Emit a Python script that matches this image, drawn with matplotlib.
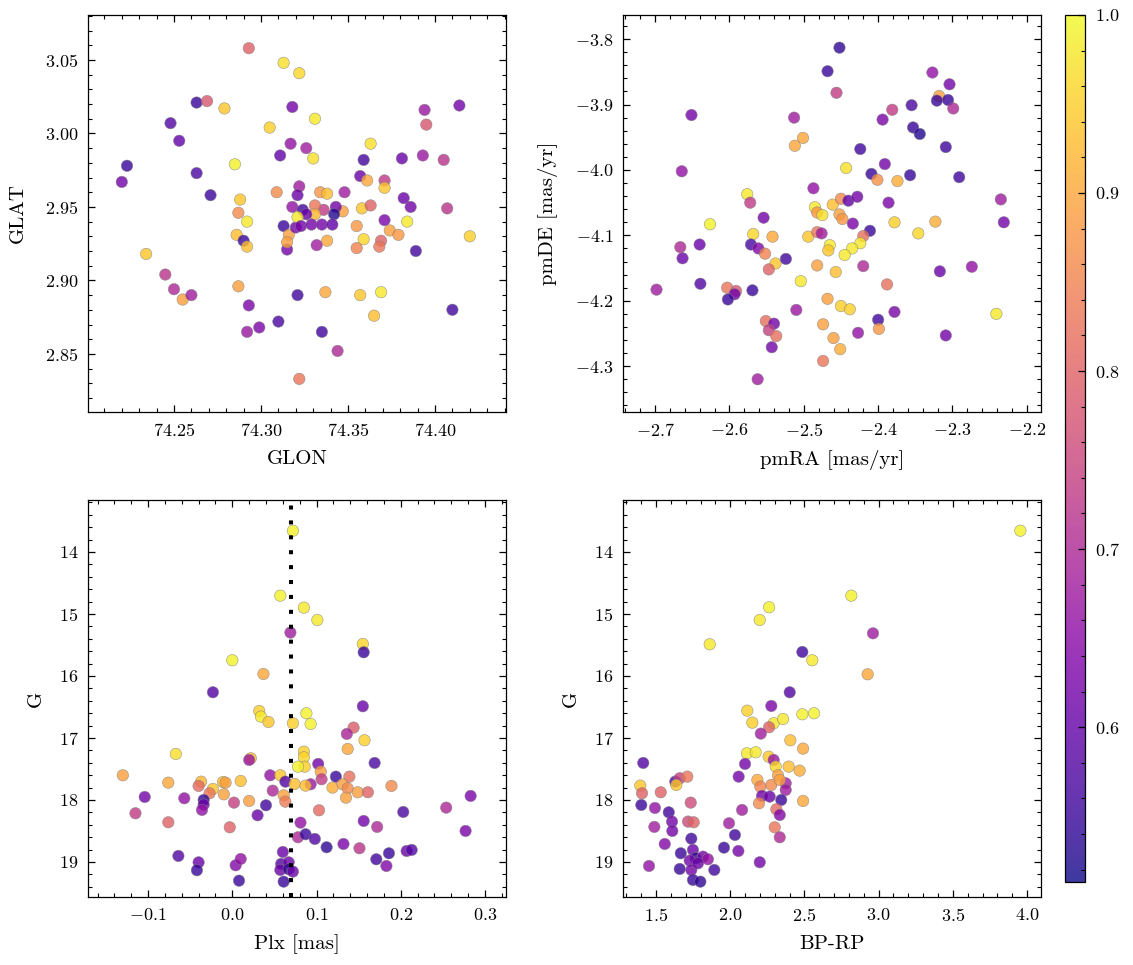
"""
membership plots: position, proper motion, parallax and CMD coloured by probability
"""
import numpy as np
import matplotlib
matplotlib.use('Agg')
import matplotlib.pyplot as plt
from matplotlib.ticker import MultipleLocator

plt.rcParams['font.family'] = 'serif'
plt.rcParams['font.serif'] = ['cmr10']
plt.rcParams['mathtext.fontset'] = 'cm'
plt.rcParams['axes.formatter.use_mathtext'] = True
plt.rcParams['font.size'] = 13
plt.rcParams['axes.labelsize'] = 15
plt.rcParams['axes.labelpad'] = 8
plt.rcParams['axes.linewidth'] = 0.9
plt.rcParams['xtick.direction'] = 'in'
plt.rcParams['ytick.direction'] = 'in'
plt.rcParams['xtick.top'] = True
plt.rcParams['ytick.right'] = True
plt.rcParams['xtick.major.pad'] = 7
plt.rcParams['ytick.major.pad'] = 7
plt.rcParams['xtick.major.size'] = 5
plt.rcParams['ytick.major.size'] = 5
plt.rcParams['xtick.minor.size'] = 2.7
plt.rcParams['ytick.minor.size'] = 2.7
plt.rcParams['xtick.major.width'] = 0.9
plt.rcParams['ytick.major.width'] = 0.9
plt.rcParams['xtick.minor.width'] = 0.8
plt.rcParams['ytick.minor.width'] = 0.8
plt.rcParams['xtick.minor.visible'] = True
plt.rcParams['ytick.minor.visible'] = True

# ---- position panel
glon = [74.293, 74.313, 74.322, 74.263, 74.269, 74.279, 74.318, 74.248, 74.305, 74.253,
        74.317, 74.311, 74.223, 74.220, 74.285, 74.263, 74.271, 74.288, 74.309, 74.287,
        74.292, 74.286, 74.290, 74.292, 74.234, 74.245, 74.250, 74.255, 74.260, 74.287,
        74.293, 74.292, 74.299, 74.310, 74.321, 74.322,
        74.313, 74.315, 74.316, 74.315, 74.318, 74.320,
        74.331, 74.394, 74.414, 74.395, 74.363, 74.326, 74.330, 74.359, 74.381, 74.393,
        74.405, 74.357, 74.361, 74.371, 74.371, 74.348, 74.334, 74.338, 74.322, 74.321,
        74.382, 74.386, 74.407, 74.358, 74.363, 74.347, 74.343, 74.342, 74.336, 74.331,
        74.331, 74.324, 74.326, 74.321, 74.323, 74.329, 74.335, 74.341, 74.371, 74.384,
        74.355, 74.374, 74.379, 74.338, 74.359, 74.369, 74.368, 74.355, 74.332, 74.389,
        74.420, 74.337, 74.357, 74.369, 74.365, 74.410, 74.335, 74.344]
glat = [3.058, 3.048, 3.041, 3.021, 3.022, 3.017, 3.018, 3.007, 3.004, 2.995,
        2.993, 2.985, 2.978, 2.967, 2.979, 2.973, 2.958, 2.955, 2.960, 2.946,
        2.940, 2.931, 2.927, 2.923, 2.918, 2.904, 2.894, 2.887, 2.890, 2.896,
        2.883, 2.865, 2.868, 2.872, 2.890, 2.833,
        2.937, 2.921, 2.931, 2.926, 2.950, 2.936,
        3.010, 3.016, 3.019, 3.006, 2.993, 2.990, 2.983, 2.982, 2.983, 2.985,
        2.982, 2.971, 2.968, 2.968, 2.963, 2.960, 2.960, 2.959, 2.964, 2.958,
        2.956, 2.950, 2.949, 2.949, 2.951, 2.947, 2.950, 2.945, 2.948, 2.951,
        2.945, 2.948, 2.945, 2.943, 2.937, 2.938, 2.938, 2.938, 2.941, 2.940,
        2.937, 2.934, 2.931, 2.927, 2.928, 2.927, 2.923, 2.922, 2.924, 2.920,
        2.930, 2.892, 2.890, 2.892, 2.876, 2.880, 2.865, 2.852]
prob_pos = [0.80, 0.97, 0.96, 0.55, 0.78, 0.94, 0.62, 0.58, 0.95, 0.60,
            0.66, 0.60, 0.55, 0.62, 0.99, 0.57, 0.55, 0.94, 0.86, 0.86,
            0.98, 0.93, 0.55, 0.93, 0.94, 0.72, 0.70, 0.89, 0.68, 0.89,
            0.63, 0.67, 0.63, 0.57, 0.56, 0.83,
            0.55, 0.62, 0.89, 0.89, 0.66, 0.62,
            0.98, 0.67, 0.62, 0.78, 0.97, 0.68, 0.97, 0.56, 0.61, 0.67,
            0.72, 0.61, 0.90, 0.73, 0.94, 0.68, 0.88, 0.93, 0.68, 0.61,
            0.61, 0.62, 0.72, 0.94, 0.80, 0.89, 0.62, 0.53, 0.73, 0.83,
            0.92, 0.56, 0.61, 0.98, 0.62, 0.62, 0.62, 0.60, 0.63, 0.98,
            0.88, 0.89, 0.88, 0.90, 0.96, 0.80, 0.83, 0.85, 0.68, 0.56,
            0.95, 0.90, 0.94, 0.98, 0.93, 0.56, 0.56, 0.70]

# ---- proper motion panel
pmra = [-2.452, -2.468, -2.456, -2.651, -2.513, -2.501, -2.512, -2.664, -2.487, -2.576,
        -2.572, -2.485, -2.482, -2.475, -2.461, -2.554, -2.626, -2.568, -2.542, -2.494,
        -2.482, -2.476, -2.465, -2.467, -2.666, -2.640, -2.663, -2.571, -2.561, -2.552,
        -2.538, -2.524, -2.547, -2.482, -2.457, -2.504, -2.698, -2.639, -2.603, -2.591,
        -2.593, -2.602, -2.569, -2.510, -2.468, -2.551, -2.540, -2.547, -2.537, -2.543,
        -2.474, -2.460, -2.474, -2.562,
        -2.327, -2.304, -2.318, -2.321, -2.306, -2.299, -2.355, -2.381, -2.394, -2.353,
        -2.344, -2.424, -2.309, -2.443, -2.391, -2.409, -2.401, -2.374, -2.357, -2.291,
        -2.450, -2.440, -2.428, -2.386, -2.452, -2.448, -2.434, -2.411, -2.420, -2.378,
        -2.323, -2.346, -2.235, -2.231, -2.424, -2.435, -2.445, -2.420, -2.317, -2.274,
        -2.388, -2.450, -2.438, -2.378, -2.400, -2.399, -2.427, -2.241, -2.309, -2.451]
pmde = [-3.813, -3.849, -3.882, -3.916, -3.920, -3.951, -3.963, -4.002, -4.028, -4.037,
        -4.050, -4.057, -4.065, -4.069, -4.053, -4.073, -4.083, -4.098, -4.102, -4.102,
        -4.095, -4.097, -4.115, -4.123, -4.118, -4.114, -4.135, -4.114, -4.120, -4.128,
        -4.143, -4.136, -4.152, -4.146, -4.156, -4.170, -4.183, -4.174, -4.180, -4.185,
        -4.190, -4.198, -4.184, -4.214, -4.197, -4.231, -4.235, -4.245, -4.254, -4.271,
        -4.236, -4.257, -4.292, -4.320,
        -3.851, -3.869, -3.887, -3.894, -3.893, -3.906, -3.901, -3.908, -3.923, -3.935,
        -3.945, -3.968, -3.965, -3.997, -3.991, -4.006, -4.015, -4.017, -4.008, -4.011,
        -4.044, -4.047, -4.041, -4.050, -4.068, -4.075, -4.082, -4.093, -4.101, -4.080,
        -4.079, -4.097, -4.045, -4.080, -4.112, -4.120, -4.130, -4.147, -4.155, -4.148,
        -4.175, -4.208, -4.213, -4.217, -4.229, -4.243, -4.249, -4.220, -4.253, -4.274]
prob_pm = [0.54, 0.55, 0.73, 0.62, 0.68, 0.90, 0.90, 0.66, 0.66, 0.98,
           0.73, 0.98, 0.88, 0.97, 0.93, 0.62, 0.99, 0.96, 0.90, 0.94,
           0.83, 0.68, 0.98, 0.94, 0.70, 0.61, 0.61, 0.57, 0.64, 0.85,
           0.94, 0.56, 0.80, 0.89, 0.93, 0.98, 0.68, 0.58, 0.83, 0.78,
           0.62, 0.55, 0.55, 0.67, 0.89, 0.82, 0.62, 0.74, 0.82, 0.62,
           0.89, 0.89, 0.83, 0.68,
           0.66, 0.62, 0.89, 0.55, 0.55, 0.70, 0.57, 0.73, 0.63, 0.55,
           0.53, 0.56, 0.56, 0.97, 0.62, 0.55, 0.87, 0.91, 0.55, 0.56,
           0.86, 0.60, 0.62, 0.63, 0.89, 0.88, 0.63, 0.55, 0.82, 0.95,
           0.91, 0.96, 0.68, 0.62, 0.98, 0.98, 0.98, 0.70, 0.61, 0.66,
           0.82, 0.95, 0.95, 0.63, 0.56, 0.88, 0.66, 0.98, 0.62, 0.91]

# ---- parallax panel
plx = [0.072, 0.057, 0.069, 0.000, 0.037, -0.023, 0.032, 0.034, 0.043, 0.072,
       -0.067, 0.022, 0.020, -0.130, -0.076, -0.037, -0.040, -0.023, -0.027, -0.011,
       -0.008, -0.010, 0.010, 0.020, 0.045, 0.057, 0.063, 0.074, 0.048, 0.061,
       0.063, -0.104, -0.057, -0.115, -0.076, -0.034, -0.034, -0.036, 0.002, -0.003,
       0.040, 0.030, -0.064, -0.040, -0.042, 0.004, 0.010, 0.008, 0.060, 0.058,
       0.057, 0.067, 0.067, 0.061, 0.072,
       0.085, 0.101, 0.155, 0.156, 0.155, 0.088, 0.093, 0.144, 0.136, 0.157,
       0.137, 0.085, 0.085, 0.086, 0.078, 0.169, 0.102, 0.105, 0.123, 0.139,
       0.106, 0.093, 0.087, 0.119, 0.131, 0.137, 0.149, 0.161, 0.189, 0.135,
       0.283, 0.254, 0.203, 0.103, 0.156, 0.172, 0.081, 0.277, 0.078, 0.087,
       0.098, 0.112, 0.132, 0.151, 0.171, 0.186, 0.183, 0.207, 0.213]
g_plx = [13.657, 14.705, 15.300, 15.747, 15.968, 16.263, 16.565, 16.656, 16.742, 16.763,
         17.258, 17.328, 17.355, 17.602, 17.721, 17.705, 17.774, 17.823, 17.892, 17.710,
         17.721, 17.909, 17.694, 18.016, 17.602, 17.602, 17.705, 17.742, 17.850, 17.925,
         18.027, 17.952, 17.973, 18.215, 18.360, 18.000, 18.075, 18.161, 18.043, 18.441,
         18.086, 18.247, 18.903, 19.006, 19.134, 19.054, 18.952, 19.302, 18.839, 19.032,
         19.129, 19.006, 19.118, 19.318, 19.156,
         14.898, 15.097, 15.484, 15.618, 16.489, 16.602, 16.774, 16.833, 16.935, 17.037,
         17.177, 17.221, 17.311, 17.463, 17.463, 17.403, 17.419, 17.543, 17.624, 17.624,
         17.666, 17.747, 17.769, 17.801, 17.747, 17.812, 17.876, 17.876, 17.774, 17.963,
         17.935, 18.124, 18.194, 18.167, 18.339, 18.435, 18.366, 18.500, 18.602, 18.553,
         18.629, 18.763, 18.710, 18.779, 18.957, 18.860, 19.065, 18.823, 18.806]
prob_plx = [0.99, 0.99, 0.68, 0.99, 0.90, 0.58, 0.95, 0.98, 0.94, 0.95,
            0.97, 0.93, 0.67, 0.89, 0.90, 0.92, 0.81, 0.94, 0.83, 0.93,
            0.89, 0.89, 0.93, 0.89, 0.66, 0.94, 0.58, 0.93, 0.70, 0.89,
            0.84, 0.62, 0.66, 0.73, 0.80, 0.54, 0.61, 0.66, 0.74, 0.80,
            0.56, 0.61, 0.58, 0.61, 0.55, 0.64, 0.66, 0.55, 0.61, 0.58,
            0.61, 0.61, 0.54, 0.55, 0.61,
            0.98, 0.98, 0.96, 0.55, 0.61, 0.99, 0.99, 0.79, 0.69, 0.95,
            0.90, 0.95, 0.96, 0.95, 0.99, 0.57, 0.62, 0.89, 0.55, 0.82,
            0.73, 0.67, 0.93, 0.91, 0.89, 0.86, 0.89, 0.80, 0.86, 0.89,
            0.63, 0.70, 0.57, 0.81, 0.62, 0.70, 0.66, 0.63, 0.70, 0.55,
            0.58, 0.54, 0.63, 0.72, 0.56, 0.55, 0.64, 0.61, 0.58]
plx_line = 0.07

# ---- colour-magnitude panel
bprp = [2.262, 2.199, 1.862, 2.486, 2.553, 2.401, 2.277, 2.115, 2.149, 2.293,
        2.262, 2.356, 2.486, 2.565, 2.206, 2.405, 2.491, 2.113, 2.172, 2.259,
        2.293, 2.100, 2.307, 2.394, 2.468, 1.414, 2.057, 2.183, 2.322, 2.277,
        2.203, 2.374, 2.374, 2.334, 2.214, 2.266, 2.344, 2.491, 2.194, 2.311,
        2.334, 2.300, 2.334, 2.199, 1.394, 1.406, 1.401, 1.532, 1.630, 1.660,
        1.711, 1.637, 1.493, 1.586, 1.734, 1.608, 1.489, 1.610, 1.716, 1.754,
        1.559, 1.453, 1.738, 1.667, 1.749, 1.768, 1.727, 1.817, 1.850, 1.660,
        1.738, 1.783, 1.749, 1.799, 1.893, 1.958, 2.032, 2.055, 1.992, 2.080,
        3.955, 2.816, 2.962, 2.926]
g_cmd = [14.892, 15.097, 15.489, 15.613, 15.747, 16.263, 16.484, 16.560, 16.753, 16.763,
         16.827, 16.694, 16.618, 16.602, 16.930, 17.038, 17.172, 17.247, 17.231, 17.302,
         17.355, 17.419, 17.462, 17.462, 17.527, 17.403, 17.624, 17.677, 17.602, 17.758,
         17.785, 17.731, 17.839, 17.677, 17.935, 17.946, 18.000, 18.016, 18.054, 18.150,
         18.242, 18.441, 18.602, 19.005, 17.769, 17.892, 18.081, 17.876, 17.704, 17.650,
         17.624, 17.758, 18.129, 18.199, 18.043, 18.349, 18.435, 18.500, 18.349, 18.360,
         18.710, 19.065, 18.624, 18.860, 18.806, 18.941, 18.978, 18.914, 18.957, 19.113,
         19.129, 19.022, 19.290, 19.318, 19.129, 18.769, 18.565, 18.823, 18.376, 18.161,
         13.657, 14.705, 15.312, 15.973]
prob_cmd = [0.99, 0.98, 0.98, 0.56, 0.98, 0.58, 0.63, 0.95, 0.95, 0.98,
            0.80, 0.98, 0.99, 0.99, 0.68, 0.93, 0.90, 0.98, 0.98, 0.94,
            0.67, 0.62, 0.96, 0.93, 0.91, 0.58, 0.62, 0.90, 0.89, 0.86,
            0.85, 0.68, 0.68, 0.89, 0.62, 0.61, 0.55, 0.90, 0.86, 0.81,
            0.64, 0.83, 0.70, 0.62, 0.94, 0.80, 0.55, 0.80, 0.57, 0.74,
            0.83, 0.94, 0.66, 0.56, 0.76, 0.62, 0.68, 0.62, 0.76, 0.80,
            0.64, 0.66, 0.56, 0.55, 0.61, 0.54, 0.62, 0.62, 0.66, 0.55,
            0.62, 0.61, 0.55, 0.54, 0.56, 0.55, 0.56, 0.62, 0.68, 0.68,
            0.99, 0.99, 0.68, 0.90]

vmin, vmax = 0.513, 1.0

fig = plt.figure(figsize=(11.33, 9.65), dpi=100)
ax1 = fig.add_axes([0.0777, 0.5731, 0.3689, 0.4114])
ax2 = fig.add_axes([0.5499, 0.5731, 0.3689, 0.4114])
ax3 = fig.add_axes([0.0777, 0.0705, 0.3689, 0.4114])
ax4 = fig.add_axes([0.5499, 0.0705, 0.3689, 0.4114])
cax = fig.add_axes([0.9400, 0.0860, 0.0177, 0.8985])

kw = dict(cmap='plasma', vmin=vmin, vmax=vmax, s=68, alpha=0.8,
          edgecolors='gray', linewidths=0.4)

sc = ax1.scatter(glon, glat, c=prob_pos, **kw)
ax1.set_xlim(74.2006, 74.4408)
ax1.set_ylim(2.8105, 3.0806)
ax1.xaxis.set_major_locator(MultipleLocator(0.05))
ax1.xaxis.set_minor_locator(MultipleLocator(0.01))
ax1.yaxis.set_major_locator(MultipleLocator(0.05))
ax1.yaxis.set_minor_locator(MultipleLocator(0.01))
ax1.set_xlabel('GLON')
ax1.set_ylabel('GLAT', labelpad=13)

ax2.scatter(pmra, pmde, c=prob_pm, **kw)
ax2.set_xlim(-2.743, -2.181)
ax2.set_ylim(-4.370, -3.763)
ax2.xaxis.set_major_locator(MultipleLocator(0.1))
ax2.xaxis.set_minor_locator(MultipleLocator(0.02))
ax2.yaxis.set_major_locator(MultipleLocator(0.1))
ax2.yaxis.set_minor_locator(MultipleLocator(0.02))
ax2.set_xlabel('pmRA [mas/yr]')
ax2.set_ylabel('pmDE [mas/yr]', labelpad=12)

ax3.scatter(plx, g_plx, c=prob_plx, **kw)
ax3.axvline(plx_line, color='k', lw=2.9, linestyle=(0, (1, 2.7)))
ax3.set_xlim(-0.1713, 0.325)
ax3.set_ylim(19.565, 13.161)
ax3.xaxis.set_major_locator(MultipleLocator(0.1))
ax3.xaxis.set_minor_locator(MultipleLocator(0.02))
ax3.yaxis.set_major_locator(MultipleLocator(1))
ax3.yaxis.set_minor_locator(MultipleLocator(0.2))
ax3.set_xlabel('Plx [mas]')
ax3.set_ylabel('G', labelpad=10)

ax4.scatter(bprp, g_cmd, c=prob_cmd, **kw)
ax4.set_xlim(1.278, 4.094)
ax4.set_ylim(19.565, 13.161)
ax4.xaxis.set_major_locator(MultipleLocator(0.5))
ax4.xaxis.set_minor_locator(MultipleLocator(0.1))
ax4.yaxis.set_major_locator(MultipleLocator(1))
ax4.yaxis.set_minor_locator(MultipleLocator(0.2))
ax4.set_xlabel('BP-RP')
ax4.set_ylabel('G', labelpad=10)

cb = fig.colorbar(sc, cax=cax)
cb.set_alpha(0.8)
cb.ax.yaxis.set_major_locator(MultipleLocator(0.1))
cb.ax.yaxis.set_minor_locator(MultipleLocator(0.02))
cb.ax.tick_params(which='both', direction='in', right=True, left=False)

fig.savefig('out.png', dpi=100)
